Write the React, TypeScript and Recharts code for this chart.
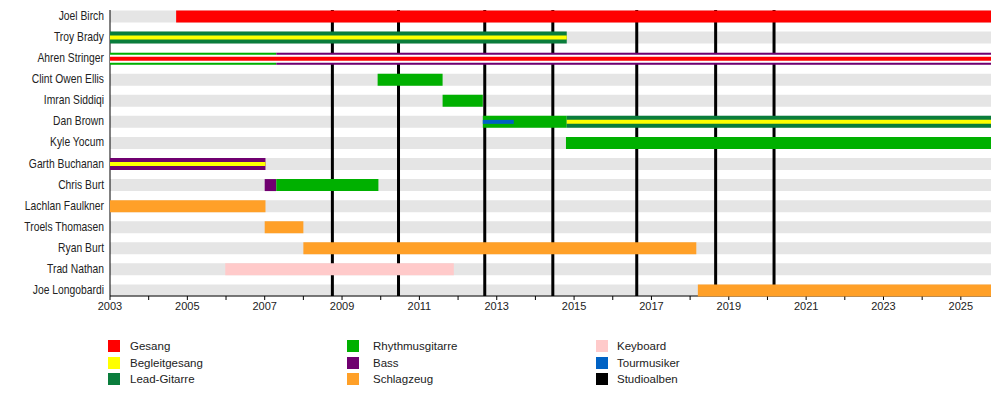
import { ComposedChart, Bar, XAxis, YAxis, ReferenceLine, Cell } from "recharts";

const START = 2003;
const END = 2025.78;

const members = [
  "Joel Birch",
  "Troy Brady",
  "Ahren Stringer",
  "Clint Owen Ellis",
  "Imran Siddiqi",
  "Dan Brown",
  "Kyle Yocum",
  "Garth Buchanan",
  "Chris Burt",
  "Lachlan Faulkner",
  "Troels Thomasen",
  "Ryan Burt",
  "Trad Nathan",
  "Joe Longobardi",
];

const roleColors: Record<string, string> = {
  Gesang: "#ff0000",
  Begleitgesang: "#ffff00",
  "Lead-Gitarre": "#0a7d3c",
  Rhythmusgitarre: "#00b000",
  Bass: "#700070",
  Schlagzeug: "#ffa028",
  Keyboard: "#ffcaca",
  Tourmusiker: "#0062c4",
  Studioalben: "#000000",
  Lücke: "#ffffff",
};

const legendColumns = [
  ["Gesang", "Begleitgesang", "Lead-Gitarre"],
  ["Rhythmusgitarre", "Bass", "Schlagzeug"],
  ["Keyboard", "Tourmusiker", "Studioalben"],
];

// [member, role, from, to]
type Seg = [string, string, number, number];

const fullBars: Seg[] = [
  ["Joel Birch", "Gesang", 2004.71, END],
  ["Troy Brady", "Lead-Gitarre", 2003, 2014.81],
  ["Ahren Stringer", "Rhythmusgitarre", 2003, 2007.3],
  ["Ahren Stringer", "Bass", 2007.3, END],
  ["Clint Owen Ellis", "Rhythmusgitarre", 2009.92, 2011.6],
  ["Imran Siddiqi", "Rhythmusgitarre", 2011.6, 2012.64],
  ["Dan Brown", "Rhythmusgitarre", 2012.64, 2014.81],
  ["Dan Brown", "Lead-Gitarre", 2014.81, END],
  ["Kyle Yocum", "Rhythmusgitarre", 2014.79, END],
  ["Garth Buchanan", "Bass", 2003, 2007.02],
  ["Chris Burt", "Bass", 2007.0, 2007.3],
  ["Chris Burt", "Rhythmusgitarre", 2007.3, 2009.94],
  ["Lachlan Faulkner", "Schlagzeug", 2003, 2007.02],
  ["Troels Thomasen", "Schlagzeug", 2007.0, 2008.0],
  ["Ryan Burt", "Schlagzeug", 2008.0, 2018.16],
  ["Trad Nathan", "Keyboard", 2005.98, 2011.89],
  ["Joe Longobardi", "Schlagzeug", 2018.2, END],
];

const gapBars: Seg[] = [["Ahren Stringer", "Lücke", 2003, END]];

const innerBars: Seg[] = [
  ["Troy Brady", "Begleitgesang", 2003, 2014.81],
  ["Ahren Stringer", "Gesang", 2003, END],
  ["Dan Brown", "Tourmusiker", 2012.64, 2013.44],
  ["Dan Brown", "Begleitgesang", 2014.81, END],
  ["Garth Buchanan", "Begleitgesang", 2003, 2007.02],
];

const albumYears = [2008.75, 2010.46, 2012.69, 2014.45, 2016.62, 2018.66, 2020.17];

const yearTicks = [
  2003, 2004, 2005, 2006, 2007, 2008, 2009, 2010, 2011, 2012, 2013, 2014,
  2015, 2016, 2017, 2018, 2019, 2020, 2021, 2022, 2023, 2024, 2025,
];

// each slot is one layer of bars, drawn on its own hidden axis so layers overlap
const slots = [
  { id: "full0", segs: fullBars, n: 0, size: 12 },
  { id: "full1", segs: fullBars, n: 1, size: 12 },
  { id: "mid0", segs: gapBars, n: 0, size: 8 },
  { id: "inner0", segs: innerBars, n: 0, size: 4 },
  { id: "inner1", segs: innerBars, n: 1, size: 4 },
];

const rows = members.map((name) => {
  const row: Record<string, any> = { name, bg: [START, END] };
  for (const s of slots) {
    const seg = s.segs.filter((b) => b[0] === name)[s.n];
    row[s.id] = seg ? [seg[2], seg[3]] : null;
    row[s.id + "Color"] = seg ? roleColors[seg[1]] : "none";
  }
  return row;
});

const FONT = "'Liberation Sans', Arial, sans-serif";
const PAD = { top: -4.5, bottom: -4.5 };
const W = 1000;
const H = 396;
const MARGIN = { top: 10, right: 9, bottom: 76, left: 0 };
// same plot area, axes hidden, for the overlay chart
const OVERLAY_MARGIN = { top: 10, right: 9, bottom: 100, left: 110 };

// the original labels use a condensed face; squeeze Liberation Sans a bit
function NameTick(props: any) {
  const { x, y, payload } = props;
  return (
    <text
      transform={`translate(${x + 2},${y}) scale(0.86,1)`}
      dy={4}
      textAnchor="end"
      fontSize={12}
      fill="#222"
      fontFamily={FONT}
    >
      {payload.value}
    </text>
  );
}

function TimelineLegend() {
  const boxX = [108, 347, 596];
  const textX = [130, 373, 617];
  return (
    <div style={{ position: "absolute", left: 0, top: 340, fontFamily: FONT, fontSize: 11.5, color: "#222" }}>
      {legendColumns.map((col, ci) =>
        col.map((role, ri) => (
          <div key={role}>
            <span
              style={{ position: "absolute", left: boxX[ci], top: ri * 16.5, width: 12, height: 12, background: roleColors[role] }}
            />
            <span style={{ position: "absolute", left: textX[ci], top: ri * 16.5 - 1, whiteSpace: "nowrap", lineHeight: "14px" }}>
              {role}
            </span>
          </div>
        ))
      )}
    </div>
  );
}

export default function App() {
  return (
    <div style={{ position: "absolute", left: 0, top: 0, width: W, height: H, background: "#fff" }}>
      {/* base: axes, gray rows, album lines */}
      <ComposedChart layout="vertical" width={W} height={H} data={rows} margin={MARGIN}>
        <XAxis
          type="number"
          domain={[START, END]}
          ticks={yearTicks}
          interval={0}
          allowDataOverflow
          height={24}
          tickFormatter={(v) => (v % 2 === 1 ? String(v) : "")}
          tick={{ fontSize: 11, fill: "#222", fontFamily: FONT }}
          tickSize={4}
          axisLine={{ stroke: "#000" }}
          tickLine={{ stroke: "#000" }}
        />
        <YAxis
          type="category"
          dataKey="name"
          width={110}
          padding={PAD}
          interval={0}
          tickLine={false}
          axisLine={{ stroke: "#000" }}
          tick={<NameTick />}
        />
        <Bar dataKey="bg" fill="#e5e5e5" barSize={12} isAnimationActive={false} />
        {albumYears.map((y) => (
          <ReferenceLine key={y} x={y} stroke="#000" strokeWidth={3} />
        ))}
      </ComposedChart>

      {/* overlay: membership bars above the album lines */}
      <div style={{ position: "absolute", left: 0, top: 0, pointerEvents: "none" }}>
        <ComposedChart layout="vertical" width={W} height={H} data={rows} margin={OVERLAY_MARGIN}>
          <XAxis type="number" domain={[START, END]} allowDataOverflow hide />
          {slots.map((s) => (
            <YAxis key={s.id} yAxisId={s.id} type="category" dataKey="name" hide padding={PAD} />
          ))}
          {slots.map((s) => (
            <Bar key={s.id} yAxisId={s.id} dataKey={s.id} barSize={s.size} isAnimationActive={false}>
              {rows.map((r) => (
                <Cell key={r.name} fill={r[s.id + "Color"]} />
              ))}
            </Bar>
          ))}
        </ComposedChart>
      </div>
      <TimelineLegend />
    </div>
  );
}
